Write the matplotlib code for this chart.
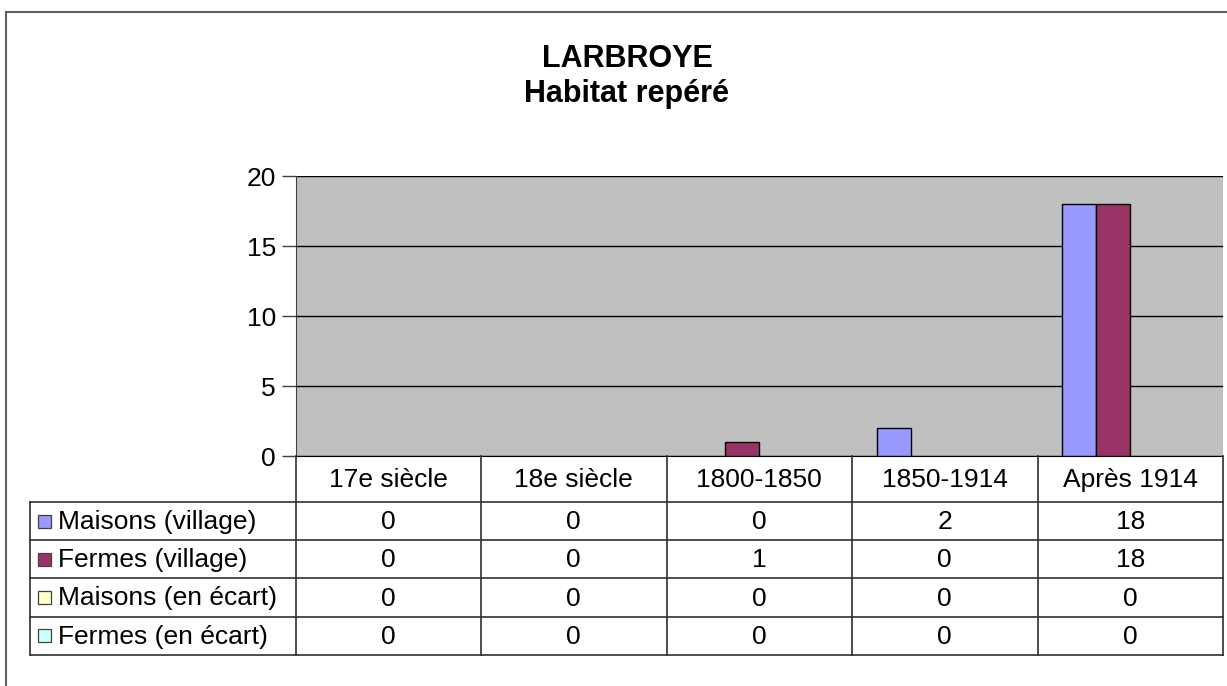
import matplotlib
matplotlib.use("Agg")
import matplotlib.pyplot as plt
from matplotlib.patches import Rectangle
from matplotlib.lines import Line2D

plt.rcParams['font.family'] = ['Liberation Sans', 'DejaVu Sans']

categories = ["17e siècle", "18e siècle", "1800-1850", "1850-1914", "Après 1914"]
series_names = ["Maisons (village)", "Fermes (village)", "Maisons (en écart)", "Fermes (en écart)"]
maisons_village = [0, 0, 0, 2, 18]
fermes_village = [0, 0, 1, 0, 18]
maisons_ecart = [0, 0, 0, 0, 0]
fermes_ecart = [0, 0, 0, 0, 0]
series_values = [maisons_village, fermes_village, maisons_ecart, fermes_ecart]
colors = ["#9999FF", "#993366", "#FFFFCC", "#CCFFFF"]
yticks = [0, 5, 10, 15, 20]

W, H = 1227, 686
fig = plt.figure(figsize=(W / 100, H / 100), dpi=100)
fig.patch.set_facecolor("white")

def fx(x):
    return x / W

def fy(y):
    return 1 - y / H

FS = 19
TFS = 22

# plot area
x0, x1, y0, y1 = 295.5, 1223, 176, 456
ax = fig.add_axes([fx(x0), fy(y1), fx(x1) - fx(x0), fy(y0) - fy(y1)])
ax.set_facecolor("#C0C0C0")
n = len(categories)
ax.set_xlim(0, n)
ax.set_ylim(0, 20)
bw = 0.183
for i, (vals, c) in enumerate(zip(series_values, colors)):
    xs = [k + 0.5 + (i - 1.5) * bw for k in range(n)]
    lw = [1.0 if v > 0 else 0 for v in vals]
    ax.bar(xs, vals, width=bw, color=c, edgecolor="black", linewidth=lw, zorder=3)
for t in yticks:
    ax.axhline(t, color="black", lw=1.0, zorder=2)
ax.set_yticks(yticks)
ax.set_yticklabels([str(t) for t in yticks], fontsize=FS)
ax.tick_params(axis="y", length=10, width=1, pad=4, color="#404040")
ax.set_xticks([])
for s in ["top", "right"]:
    ax.spines[s].set_visible(False)
ax.spines["left"].set_color("#404040")
ax.spines["bottom"].set_color("black")

# data table
col_w = (x1 - x0) / n
hdr_bot = 502
row_h = 38.2
leg_x = 29.5
rows_y = [hdr_bot + r * row_h for r in range(len(series_names) + 1)]
lc = "#303030"
def hline(xa, xb, y):
    fig.add_artist(Line2D([fx(xa), fx(xb)], [fy(y), fy(y)], color=lc, lw=1.2))
def vline(x, ya, yb):
    fig.add_artist(Line2D([fx(x), fx(x)], [fy(ya), fy(yb)], color=lc, lw=1.2))

for k in range(n + 1):
    vline(x0 + k * col_w, y1, rows_y[-1])
vline(leg_x, hdr_bot, rows_y[-1])
for y in rows_y:
    hline(leg_x, x1, y)

for k, cat in enumerate(categories):
    fig.text(fx(x0 + (k + 0.5) * col_w), fy((y1 + hdr_bot) / 2 + 1), cat,
             ha="center", va="center", fontsize=FS)
for r, (name, vals, c) in enumerate(zip(series_names, series_values, colors)):
    yc = rows_y[r] + row_h / 2
    sw = 13
    fig.add_artist(Rectangle((fx(38), fy(yc + sw / 2)), fx(sw), fy(yc - sw / 2) - fy(yc + sw / 2),
                             facecolor=c, edgecolor="#404040", lw=0.9))
    fig.text(fx(58), fy(yc + 1), name, ha="left", va="center", fontsize=FS)
    for k, v in enumerate(vals):
        fig.text(fx(x0 + (k + 0.5) * col_w), fy(yc + 1), str(v), ha="center", va="center", fontsize=FS)

# title
fig.text(fx(627), fy(67), "LARBROYE", ha="center", va="baseline", fontsize=TFS, fontweight="bold")
fig.text(fx(627), fy(102), "Habitat repéré", ha="center", va="baseline", fontsize=TFS, fontweight="bold")

# outer chart border
fig.add_artist(Line2D([fx(6), fx(W)], [fy(12), fy(12)], color="#606060", lw=1.5))
fig.add_artist(Line2D([fx(6), fx(6)], [fy(12), fy(H)], color="#606060", lw=1.5))

fig.savefig("out.png", dpi=100)
